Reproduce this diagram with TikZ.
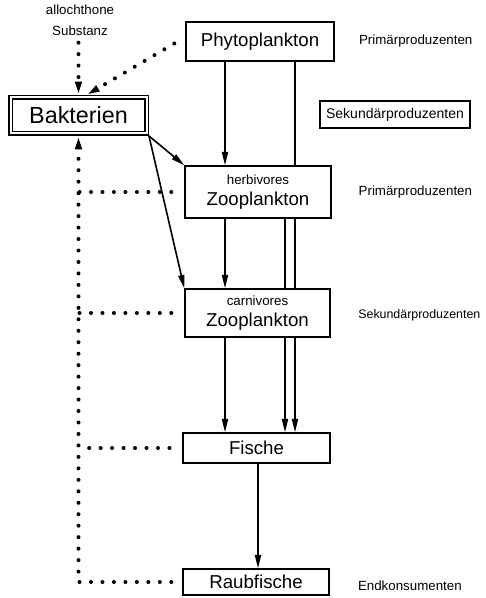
\documentclass[tikz,border=0pt]{standalone}
\usepackage{fontspec}
\setmainfont{Liberation Sans}
\usetikzlibrary{
  arrows.meta,
  backgrounds,
  calc,
  positioning,
}
\tikzset{
  >={Triangle[length=10pt, width=4.6pt]},
  box/.style={draw, fill=white, line width=1.1pt, inner sep=0pt,
    font=\fontsize{14}{16}\selectfont},
  layer/.style={inner sep=0pt, font=\fontsize{10}{12}\selectfont},
  flow/.style={->, line width=1.2pt},
  dotflow/.style={line width=3pt, line cap=round, dash pattern=on 0pt off 8.6pt},
}

\begin{document}
\begin{tikzpicture}[x=0.75pt, y=-0.75pt]
  \useasboundingbox (0,0) rectangle (485,598);

  \node [box, minimum width=111pt, minimum height=29.25pt] (phyto) at (260,41.5) {Phytoplankton};
  \node [box, double, double distance=1.5pt, outer sep=1.85pt, minimum width=102pt, minimum height=27pt,
         font=\fontsize{17.5}{20}\selectfont] (bakt) at (78.5,115.5) {Bakterien};
  \node [box, minimum width=109.5pt, minimum height=39pt, align=center] (herb) at (258,192)
        {{\fontsize{10}{12}\selectfont herbivores}\\Zooplankton};
  \node [box, minimum width=108.75pt, minimum height=36pt, align=center] (carn) at (257.5,313)
        {{\fontsize{10}{12}\selectfont carnivores}\\Zooplankton};
  \node [box, minimum width=110pt, minimum height=22.5pt] (fische) at (256.5,448) {Fische};
  \node [box, minimum width=109.5pt, minimum height=19.5pt] (raub) at (256,582) {Raubfische};
  \node [box, layer, minimum width=112.5pt, minimum height=20.25pt,
         font=\fontsize{10.5}{12}\selectfont] (sek) at (395,114.5) {Sekundärproduzenten};

  \node [layer, align=center, font=\fontsize{10}{15.75}\selectfont] (subst) at (80,20) {allochthone\\Substanz};

  \node [layer, right=18pt of phyto] (lphyto) {Primärproduzenten};
  \node [layer, right=20pt of herb] (lherb) {Primärproduzenten};
  \node [layer, right=20.5pt of carn, yshift=-2pt, font=\fontsize{9.3}{12}\selectfont] (lcarn) {Sekundärproduzenten};
  \node [layer, right=21pt of raub, yshift=-3pt] (lraub) {Endkonsumenten};

  \coordinate (colA) at (225,0);
  \coordinate (colB) at (285,0);
  \coordinate (colC) at (295,0);
  \coordinate (colD) at (258,0);

  % food chain
  \draw [flow] (phyto.south -| colA) -- (herb.north -| colA);
  \draw [flow] (herb.south -| colA) -- (carn.north -| colA);
  \draw [flow] (carn.south -| colA) -- (fische.north -| colA);
  \draw [flow] (fische.south -| colD) -- (raub.north -| colD);
  \begin{scope}[on background layer]
    \draw [flow] (phyto.south -| colC) -- (fische.north -| colC);
    \draw [flow] (herb.south -| colB) -- (fische.north -| colB);
  \end{scope}
  \draw [flow] (bakt.south east) -- (herb.north west);
  \draw [flow] (bakt.south east) -- (carn.north west);

  % dead matter to bacteria
  \draw [dotflow, ->] ($(subst.south -| bakt.north)+(0,7)$) -- (bakt.north);
  \draw [dotflow, ->] ($(phyto.west)+(-11,2)$) -- ($(bakt.north)+(8,0)$);
  \draw [dotflow, ->] ($(raub.west)+(-11,0)$) -| (bakt.south);
  \foreach \n in {herb, carn, fische}
    \draw [dotflow] ($(\n.west)+(-13,0)$) -- (\n.west -| bakt.south);
\end{tikzpicture}
\end{document}
